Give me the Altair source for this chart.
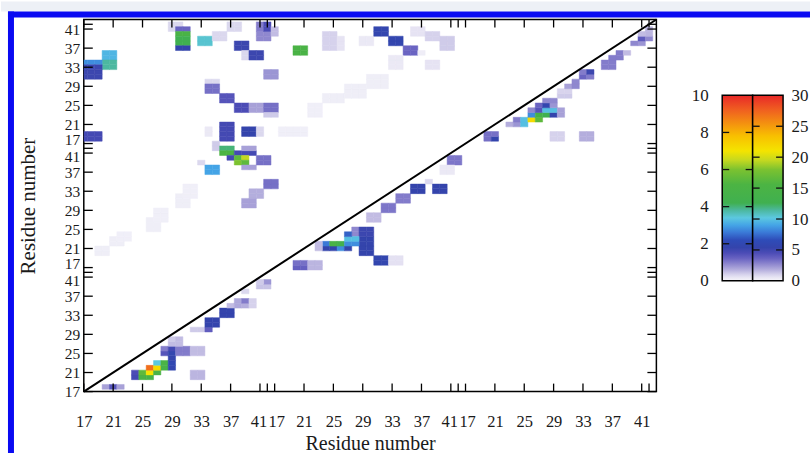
import altair as alt
import pandas as pd

# ---------------- axis / residue layout ----------------
N_CHAINS = 3
CHAIN_LEN = 26          # residues 17..42 in each chain
FIRST_RES = 17
LABEL_RES = [17, 21, 25, 29, 33, 37, 41]
TICK_RES = [17, 21, 25, 29, 33, 37, 41, 42]

# ---------------- colour map (level on the 0-10 bar) ----------------
LEVEL_STOPS = [0.0, 0.15, 0.35, 0.6, 0.9, 1.2, 1.5, 1.8, 2.2, 2.6, 3.0, 3.4,
               3.8, 4.2, 5.2, 6.0, 6.5, 7.0, 7.8, 8.5, 9.2, 10.0]
COLOR_STOPS = ["#f6f5fb", "#ebe9f5", "#d6d2ec", "#b4aedd", "#8f88cf", "#6a64c2",
               "#4c4cb6", "#3444ac", "#2e4cb8", "#3a78d6", "#44a4e6", "#5cc8e0",
               "#4cb8a0", "#40b050", "#4cb443", "#7cc230", "#c4d820", "#f4e400",
               "#f8c000", "#f49010", "#f06020", "#e82828"]

# colour-bar labels / ticks
LEFT_BAR_LABELS = [0, 2, 4, 6, 8, 10]
LEFT_BAR_TICKS = [2, 4, 6, 8]
RIGHT_BAR_LABELS = [0, 5, 10, 15, 20, 25, 30]
RIGHT_BAR_TICKS = [5, 10, 15, 20, 25]

# ---------------- data: blocks of cells (x from, x to, y from, y to, value) ----------------
# indices are global residue positions 0..77 (chain*26 + residue-17)
# lower-right triangle, scale 0-10
LOWER_BLOCKS = [
    # chain 1
    (3, 3, 1, 1, 0.7), (4, 4, 1, 1, 1.4), (5, 5, 1, 1, 0.7),
    (7, 7, 3, 3, 1.6), (7, 7, 4, 4, 1.5),
    (8, 8, 3, 3, 5.0), (9, 9, 3, 3, 4.8), (8, 8, 4, 4, 5.5), (9, 9, 4, 4, 7.0),
    (10, 10, 4, 4, 5.0), (9, 9, 5, 5, 9.0), (10, 10, 5, 5, 7.2), (10, 10, 6, 6, 3.4),
    (11, 11, 5, 5, 4.8), (11, 11, 6, 6, 5.0),
    (12, 12, 5, 5, 1.9), (12, 12, 6, 6, 2.0), (12, 12, 7, 7, 1.8),
    (11, 11, 8, 8, 1.4), (12, 12, 8, 8, 1.9), (11, 11, 9, 9, 1.0), (12, 12, 9, 9, 1.6),
    (13, 14, 8, 9, 1.0),
    (12, 13, 10, 10, 0.5), (12, 12, 11, 11, 0.4), (13, 13, 11, 11, 0.5),
    (15, 16, 8, 9, 0.5), (15, 16, 3, 4, 0.55),
    (15, 16, 13, 13, 0.4), (17, 17, 13, 13, 1.3),
    (17, 18, 14, 15, 1.8), (19, 20, 16, 17, 1.8),
    (20, 20, 18, 18, 0.5), (21, 21, 18, 19, 0.65), (22, 22, 18, 18, 0.6),
    (22, 22, 19, 19, 1.0), (23, 23, 18, 19, 0.35), (22, 22, 21, 21, 0.3),
    (24, 25, 22, 22, 0.45), (25, 25, 23, 23, 0.8), (24, 24, 23, 23, 0.4),
    # chain 2
    (29, 30, 26, 26, 1.25), (29, 30, 27, 27, 1.1), (31, 32, 26, 27, 0.55),
    (40, 41, 27, 28, 1.9), (42, 43, 27, 28, 0.22),
    (38, 39, 29, 32, 1.8),
    (37, 37, 33, 34, 0.9), (38, 39, 33, 34, 1.7),
    (33, 33, 30, 30, 1.8), (34, 34, 30, 30, 1.8), (35, 35, 30, 30, 2.8), (36, 36, 30, 30, 1.8),
    (33, 33, 31, 31, 2.6), (34, 34, 31, 31, 5.0), (35, 35, 31, 31, 4.5), (36, 36, 31, 31, 2.8),
    (37, 37, 31, 31, 2.8), (36, 37, 32, 32, 3.3), (36, 36, 33, 33, 2.4),
    (32, 32, 30, 31, 0.5),
    (39, 40, 36, 37, 0.5), (41, 42, 38, 39, 1.05), (43, 44, 40, 41, 1.0),
    (45, 46, 42, 43, 1.8), (47, 47, 44, 44, 0.3), (48, 49, 42, 43, 1.8),
    (50, 51, 48, 49, 1.05), (49, 50, 46, 47, 0.15),
    # chain 3
    (55, 55, 53, 53, 1.1), (56, 56, 53, 53, 1.8), (55, 56, 54, 54, 1.1),
    (58, 58, 56, 56, 0.6), (59, 59, 56, 56, 0.8), (60, 60, 56, 56, 3.3),
    (59, 59, 57, 57, 1.0), (60, 60, 57, 57, 3.3), (61, 61, 57, 57, 7.2), (62, 62, 57, 57, 5.5),
    (61, 61, 58, 58, 2.8), (62, 62, 58, 58, 4.8), (63, 63, 58, 58, 4.2), (64, 64, 58, 58, 1.8),
    (65, 65, 58, 58, 0.7), (61, 61, 59, 59, 0.9), (62, 62, 59, 59, 1.4), (63, 64, 59, 59, 3.3),
    (65, 65, 59, 59, 0.7), (62, 62, 60, 60, 1.2), (63, 63, 60, 60, 1.9), (64, 64, 60, 60, 0.8),
    (63, 64, 61, 61, 0.9), (65, 66, 62, 62, 0.4), (65, 66, 63, 63, 0.33),
    (66, 66, 64, 64, 0.7), (67, 67, 64, 65, 0.9),
    (68, 68, 66, 66, 1.2), (69, 69, 66, 66, 1.0), (68, 68, 67, 67, 1.0), (69, 69, 67, 67, 1.7),
    (71, 72, 68, 69, 1.0), (72, 73, 70, 70, 1.0), (73, 73, 71, 71, 1.0), (74, 74, 71, 71, 0.5),
    (75, 75, 73, 73, 0.9), (76, 76, 73, 73, 0.8), (76, 76, 74, 74, 1.3), (77, 77, 74, 74, 0.9),
    (76, 76, 75, 75, 0.5), (77, 77, 75, 76, 0.55),
    (64, 65, 53, 54, 0.35), (68, 69, 53, 54, 0.6),
]

# upper-left triangle, scale 0-30
UPPER_BLOCKS = [
    # chain 1 x chain 3
    (12, 12, 76, 77, 0.9), (13, 13, 77, 77, 0.9),
    (13, 14, 76, 76, 3.6), (13, 14, 75, 75, 15.0), (13, 14, 73, 74, 12.6), (13, 14, 72, 72, 5.4),
    (16, 17, 73, 74, 10.5), (18, 19, 74, 75, 0.9), (20, 21, 76, 77, 0.9),
    (21, 22, 72, 73, 5.1), (22, 22, 70, 71, 0.9), (23, 24, 70, 71, 5.1),
    (24, 25, 74, 75, 2.7), (24, 24, 76, 77, 3.0), (25, 25, 76, 77, 4.5), (26, 26, 75, 76, 1.5),
    (25, 26, 66, 67, 2.4),
    (3, 4, 70, 71, 9.6), (3, 4, 68, 69, 11.4), (0, 2, 69, 69, 8.4), (0, 2, 66, 68, 5.1),
    (17, 18, 65, 65, 0.9), (17, 18, 63, 64, 3.3), (19, 20, 61, 62, 4.2),
    (21, 22, 59, 60, 4.5), (23, 24, 59, 60, 2.1), (25, 26, 59, 60, 3.3), (25, 26, 58, 58, 1.2),
    (19, 20, 53, 56, 4.8), (22, 23, 54, 55, 5.4), (24, 24, 54, 55, 0.9),
    (0, 2, 53, 54, 4.8), (17, 17, 54, 55, 0.45),
    # chain 1 x chain 2
    (18, 18, 51, 52, 1.2), (19, 20, 51, 51, 12.0), (19, 20, 50, 50, 15.6),
    (21, 23, 50, 50, 4.8), (22, 23, 51, 51, 2.1), (20, 20, 49, 49, 4.8),
    (21, 21, 49, 49, 16.5), (22, 22, 49, 49, 19.5), (21, 21, 48, 48, 18.0), (22, 22, 48, 48, 16.5),
    (22, 23, 47, 47, 2.1), (24, 25, 48, 49, 3.3), (16, 16, 48, 48, 0.9),
    (17, 18, 46, 47, 9.0), (25, 26, 43, 44, 3.3), (23, 24, 41, 42, 1.8), (22, 23, 39, 40, 2.1),
    (2, 3, 29, 30, 0.27), (4, 5, 31, 32, 0.27), (5, 6, 32, 33, 0.24),
    (9, 10, 34, 36, 0.27), (10, 11, 36, 38, 0.24), (13, 14, 39, 41, 0.27), (14, 15, 41, 43, 0.24),
    # chain 2 x chain 3
    (29, 30, 71, 72, 15.0), (33, 34, 72, 75, 1.05), (35, 35, 72, 74, 0.6), (38, 39, 73, 74, 0.45),
    (40, 41, 75, 76, 5.7), (42, 43, 73, 74, 5.7), (44, 45, 71, 72, 3.6), (42, 43, 68, 70, 0.45),
    (45, 46, 75, 76, 0.6), (47, 48, 74, 75, 1.05), (49, 50, 72, 74, 1.2), (47, 48, 68, 69, 0.6),
    (46, 46, 71, 71, 0.3),
    (27, 30, 54, 55, 0.24), (31, 32, 58, 60, 0.24), (33, 35, 61, 62, 0.27),
    (36, 38, 62, 64, 0.27), (39, 41, 64, 66, 0.27),
]


def expand(blocks):
    cells = {}
    for x0, x1, y0, y1, v in blocks:
        for i in range(x0, x1 + 1):
            for j in range(y0, y1 + 1):
                cells[(i, j)] = v
    return pd.DataFrame([{"i": i, "j": j, "v": v} for (i, j), v in cells.items()])


lower_df = expand(LOWER_BLOCKS)
upper_df = expand(UPPER_BLOCKS)

N = N_CHAINS * CHAIN_LEN
LABEL_POS = [c * CHAIN_LEN + r - FIRST_RES for c in range(N_CHAINS) for r in LABEL_RES]
TICK_POS = [c * CHAIN_LEN + r - FIRST_RES for c in range(N_CHAINS) for r in TICK_RES]

# ---------------- styling ----------------
W, H = 574, 373
FONT = "Liberation Serif"
TXT = "#1a1a1a"

XS = alt.Scale(domain=[0, N], nice=False, zero=False)
YS = alt.Scale(domain=[0, N], nice=False, zero=False)
LABEL_EXPR = "'' + (17 + datum.value % 26)"
END_TEST = "datum.value == 24 || datum.value == 50"      # residue 41 before a chain break
START_TEST = "datum.value == 26 || datum.value == 52"    # residue 17 after a chain break

x_axis = alt.Axis(values=LABEL_POS, labelExpr=LABEL_EXPR, ticks=False, domain=False, grid=False,
                  labelFlush=False, labelOverlap=False, labelFont=FONT, labelFontSize=16.5,
                  labelColor=TXT, labelPadding=22,
                  labelOffset={"condition": [{"test": END_TEST, "value": -1.6},
                                             {"test": START_TEST, "value": 1.6}], "value": 0},
                  title="Residue number", titleFont=FONT,
                  titleFontSize=20, titleFontWeight="normal", titleColor=TXT, titlePadding=4)
y_axis = alt.Axis(values=LABEL_POS, labelExpr=LABEL_EXPR, ticks=False, domain=False, grid=False,
                  labelFlush=False, labelOverlap=False, labelFont=FONT, labelFontSize=15.5,
                  labelColor=TXT, labelPadding=4,
                  labelOffset={"condition": [{"test": END_TEST, "value": 3.6},
                                             {"test": START_TEST, "value": -3.6}], "value": 0},
                  title="Residue number", titleFont=FONT,
                  titleFontSize=21, titleFontWeight="normal", titleColor=TXT, titlePadding=26)


def heat(df, mult):
    sc = alt.Scale(domain=[l * mult for l in LEVEL_STOPS], range=COLOR_STOPS, clamp=True,
                   interpolate="rgb")
    return alt.Chart(df).mark_rect(clip=True, strokeWidth=0.5).transform_calculate(
        xa="datum.i - 0.5", xb="datum.i + 0.5", ya="datum.j - 0.5", yb="datum.j + 0.5"
    ).encode(
        x=alt.X("xa:Q", scale=XS, axis=x_axis), x2="xb:Q",
        y=alt.Y("ya:Q", scale=YS, axis=y_axis), y2="yb:Q",
        fill=alt.Fill("v:Q", scale=sc, legend=None),
        stroke=alt.Stroke("v:Q", scale=sc, legend=None),
    )


lower = heat(lower_df, 1)
upper = heat(upper_df, 3)

diag_df = pd.DataFrame({"a": [0], "b": [N]})
diag = alt.Chart(diag_df).mark_rule(color="black", strokeWidth=2).encode(
    x=alt.X("a:Q", scale=XS, axis=x_axis), x2="b:Q",
    y=alt.Y("a:Q", scale=YS, axis=y_axis), y2="b:Q")

tick_df = pd.DataFrame({"p": TICK_POS})
tick_style = dict(color="black", strokeWidth=1.3)
bottom_ticks = alt.Chart(tick_df).mark_rule(**tick_style).encode(
    x=alt.X("p:Q", scale=XS, axis=x_axis), y=alt.value(H), y2=alt.value(H - 8))
top_ticks = alt.Chart(tick_df).mark_rule(**tick_style).encode(
    x=alt.X("p:Q", scale=XS, axis=x_axis), y=alt.value(0), y2=alt.value(8))
left_ticks = alt.Chart(tick_df).mark_rule(**tick_style).encode(
    y=alt.Y("p:Q", scale=YS, axis=y_axis), x=alt.value(0), x2=alt.value(9))
right_ticks = alt.Chart(tick_df).mark_rule(**tick_style).encode(
    y=alt.Y("p:Q", scale=YS, axis=y_axis), x=alt.value(W), x2=alt.value(W - 9))

# page frame (light strip and blue border of the figure)
dummy = pd.DataFrame({"d": [0]})
top_strip = alt.Chart(dummy).mark_rect(color="#edf0f6").encode(
    x=alt.value(-83), x2=alt.value(728), y=alt.value(-18), y2=alt.value(-8))
blue_top = alt.Chart(dummy).mark_rect(color="#0a0af2").encode(
    x=alt.value(-76), x2=alt.value(728), y=alt.value(-8), y2=alt.value(-2))
blue_left = alt.Chart(dummy).mark_rect(color="#0a0af2").encode(
    x=alt.value(-76), x2=alt.value(-70), y=alt.value(-8), y2=alt.value(435))

main = alt.layer(
    top_strip, blue_top, blue_left, lower, upper, diag,
    bottom_ticks, top_ticks, left_ticks, right_ticks
).resolve_scale(fill="independent", stroke="independent").properties(
    width=W, height=H, view=alt.ViewBackground(stroke="black", strokeWidth=1.5))

# ---------------- colour bars ----------------
BAR_TOP_PX, BAR_BOTTOM_PX = 76, 262
per_px = 10.0 / (BAR_BOTTOM_PX - BAR_TOP_PX)
L_DOM = [-(H - BAR_BOTTOM_PX) * per_px, 10 + BAR_TOP_PX * per_px]
R_DOM = [3 * d for d in L_DOM]
LSC = alt.Scale(domain=L_DOM, nice=False, zero=False)
RSC = alt.Scale(domain=R_DOM, nice=False, zero=False)
BXS = alt.Scale(domain=[0, 2], nice=False, zero=False)

GRAD = alt.LinearGradient(
    gradient="linear", x1=0, x2=0, y1=1, y2=0,
    stops=[alt.GradientStop(offset=l / 10.0, color=c) for l, c in zip(LEVEL_STOPS, COLOR_STOPS)])

laxis = alt.Axis(values=LEFT_BAR_LABELS, orient="left", domain=False, ticks=False, grid=False,
                 labelFont=FONT, labelFontSize=17, labelColor=TXT, labelPadding=14, title=None)
raxis = alt.Axis(values=RIGHT_BAR_LABELS, orient="right", domain=False, ticks=False, grid=False,
                 labelFont=FONT, labelFontSize=17, labelColor=TXT, labelPadding=8, title=None)

lbar_df = pd.DataFrame({"lo": [0], "hi": [10], "b0": [0], "b1": [1]})
rbar_df = pd.DataFrame({"lo": [0], "hi": [30], "b0": [1], "b1": [2]})
lt_df = pd.DataFrame({"v": LEFT_BAR_TICKS})
rt_df = pd.DataFrame({"v": RIGHT_BAR_TICKS})
dash = dict(color="#111111", strokeWidth=1.3)

left_bar = alt.Chart(lbar_df).mark_rect(fill=GRAD, stroke="black", strokeWidth=1.5).encode(
    x=alt.X("b0:Q", scale=BXS, axis=None), x2="b1:Q",
    y=alt.Y("lo:Q", scale=LSC, axis=laxis), y2="hi:Q")
left_d1 = alt.Chart(lt_df).mark_rule(**dash).encode(
    y=alt.Y("v:Q", scale=LSC, axis=None), x=alt.value(0), x2=alt.value(7))
left_d2 = alt.Chart(lt_df).mark_rule(**dash).encode(
    y=alt.Y("v:Q", scale=LSC, axis=None), x=alt.value(23.5), x2=alt.value(30.5))

right_bar = alt.Chart(rbar_df).mark_rect(fill=GRAD, stroke="black", strokeWidth=1.5).encode(
    x=alt.X("b0:Q", scale=BXS, axis=None), x2="b1:Q",
    y=alt.Y("lo:Q", scale=RSC, axis=raxis), y2="hi:Q")
right_d1 = alt.Chart(rt_df).mark_rule(**dash).encode(
    y=alt.Y("v:Q", scale=RSC, axis=None), x=alt.value(30.5), x2=alt.value(37.5))
right_d2 = alt.Chart(rt_df).mark_rule(**dash).encode(
    y=alt.Y("v:Q", scale=RSC, axis=None), x=alt.value(54), x2=alt.value(61))

legend = alt.layer(
    left_bar, right_bar, left_d1, left_d2, right_d1, right_d2
).resolve_scale(y="independent").properties(
    width=61, height=H, view=alt.ViewBackground(stroke="transparent"))

chart = alt.hconcat(main, legend, spacing=66, bounds="flush", padding=0).configure(
    background="white")

chart.save("out.html", embed_options={"renderer": "svg", "actions": False})
